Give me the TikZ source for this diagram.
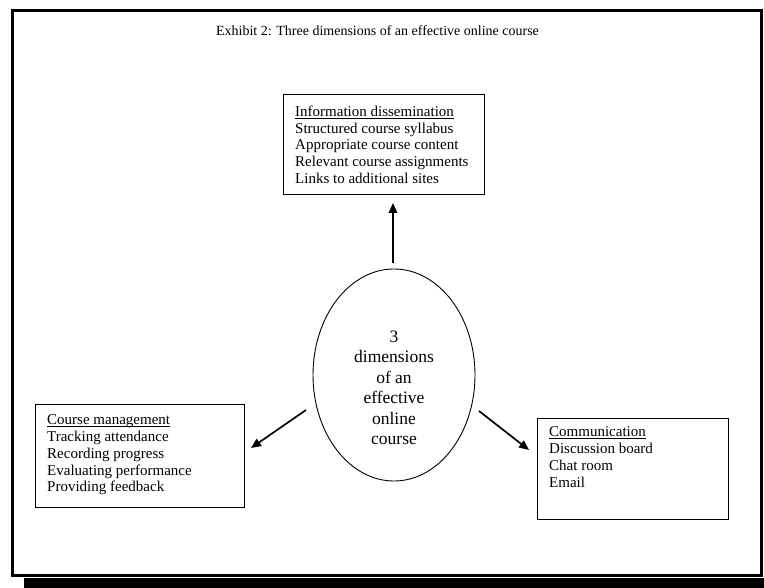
\documentclass[tikz,border=0pt]{standalone}
\usepackage{fontspec}
\setmainfont{Liberation Serif}
\usetikzlibrary{shapes.geometric,arrows.meta}
% heading line of a list box, with a rule under it
\newcommand{\headline}[1]{\setbox0\hbox{#1}\rlap{\rule[-2.6pt]{\wd0}{0.9pt}}\box0}
\begin{document}
\begin{tikzpicture}[x=1pt,y=-1pt,
  panel/.style={draw, line width=0.9pt, rectangle, inner sep=0pt, anchor=north west},
  entry/.style={anchor=north west, inner sep=0pt, align=left,
    font=\fontsize{15}{16.8}\selectfont},
  arr/.style={line width=1.7pt, -{Triangle[length=10pt,width=8.5pt]}}]
\useasboundingbox (0,0) rectangle (764,588);

% page frame with its drop shadow
\fill (24,578) rectangle (764,588);
\draw[line width=3pt] (12,10.5) rectangle (761.5,575.5);

\node[anchor=base, inner sep=0pt, font=\fontsize{14}{16}\selectfont] (title)
  at (377.5,35.5) {Exhibit 2: Three dimensions of an effective online course};

% the three dimensions
\node[panel, minimum width=201pt, minimum height=100pt] (info) at (283,94) {};
\node[entry] (infotxt) at (295,105.5) {\headline{Information dissemination}\\
  Structured course syllabus\\ Appropriate course content\\
  Relevant course assignments\\ Links to additional sites};

\node[panel, minimum width=209pt, minimum height=103pt] (mgmt) at (35,404) {};
\node[entry] (mgmttxt) at (47,414.5) {\headline{Course management}\\
  Tracking attendance\\ Recording progress\\
  Evaluating performance\\ Providing feedback};

\node[panel, minimum width=191pt, minimum height=101pt] (comm) at (537,418) {};
\node[entry] (commtxt) at (549,426.5) {\headline{Communication}\\
  Discussion board\\ Chat room\\ Email};

% central ellipse
\node[draw, ellipse, line width=0.9pt, inner sep=0pt,
  minimum width=162pt, minimum height=212pt] (hub) at (394,375) {};
\node[align=center, inner sep=0pt, font=\fontsize{17.5}{20.5}\selectfont] (hubtxt)
  at (394,388) {3\\ dimensions\\ of an\\ effective\\ online\\ course};

% arrows from the ellipse towards each box
\coordinate (upA) at (393,263);
\coordinate (upB) at (393,203);
\coordinate (leftA) at (306,410);
\coordinate (leftB) at (251,448);
\coordinate (rightA) at (479,411);
\coordinate (rightB) at (529,450);
\draw[arr] (upA) -- (upB);
\draw[arr] (leftA) -- (leftB);
\draw[arr] (rightA) -- (rightB);
\end{tikzpicture}
\end{document}
